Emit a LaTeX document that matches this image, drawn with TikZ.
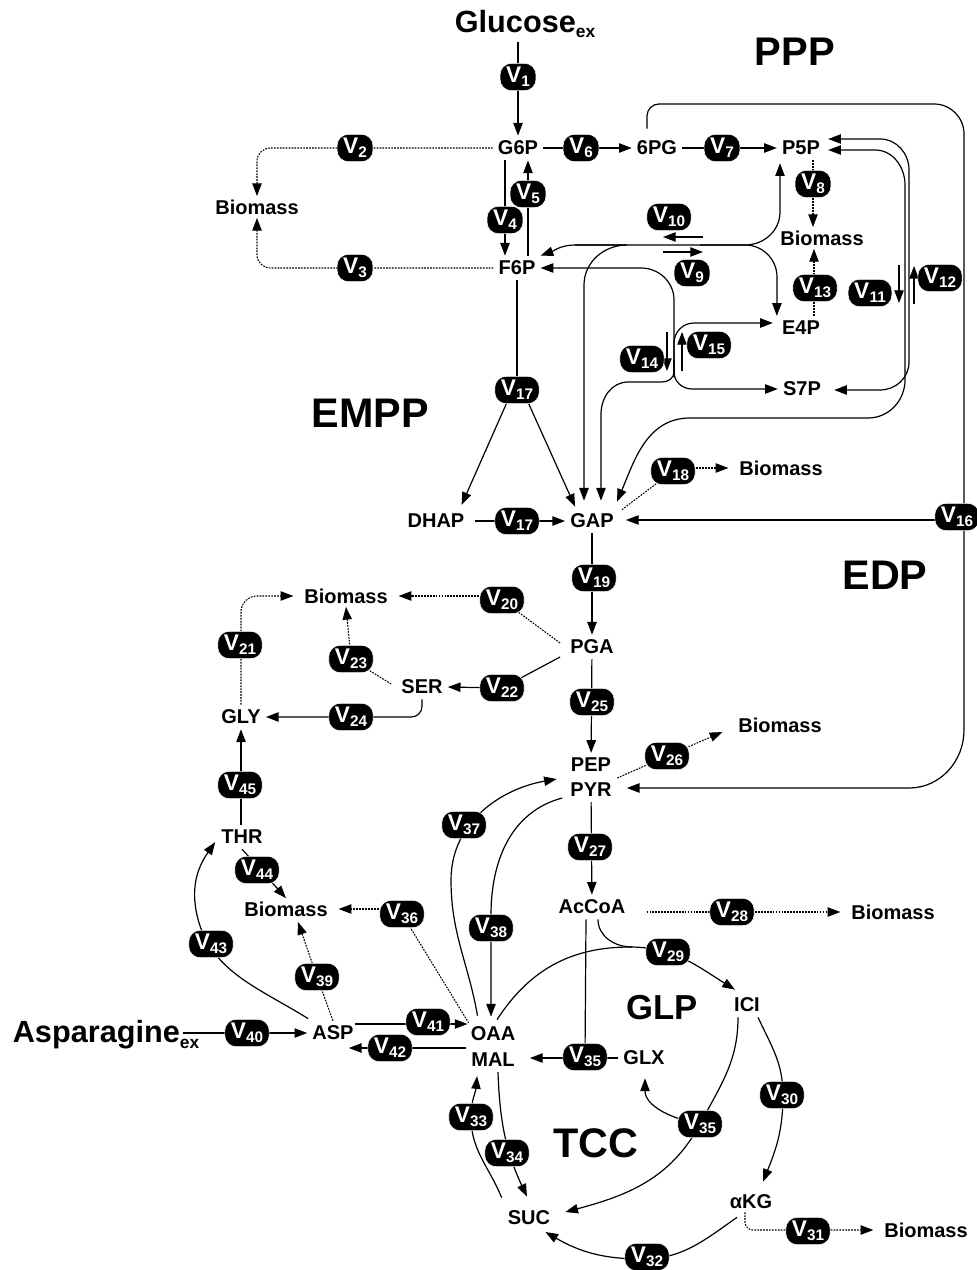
\documentclass[tikz,border=0pt]{standalone}
\usepackage{fontspec}
\setmainfont{Liberation Sans}
\usetikzlibrary{arrows.meta,calc}
\newcommand{\VV}[1]{{\fontsize{17}{17}\selectfont V}\kern0.2pt\raisebox{-3pt}{\fontsize{11.5}{11.5}\selectfont #1}}
\newcommand{\SubEx}{\raisebox{-4pt}{\fontsize{13}{13}\selectfont ex}}
\begin{document}
\begin{tikzpicture}[x=0.75pt,y=-0.75pt,
  >={Triangle[length=9.5pt,width=7pt]},
  met/.style={font=\fontsize{15}{15}\selectfont\bfseries, inner sep=3.75pt},
  bio/.style={met, inner xsep=8pt, inner ysep=2.5pt},
  big/.style={font=\fontsize{31}{31}\selectfont\bfseries, inner sep=0pt},
  ext/.style={font=\fontsize{23}{23}\selectfont\bfseries, inner sep=3pt},
  vb/.style={fill=black, text=white, draw=white, line width=0.4pt, rounded corners=8.5pt, minimum height=20.5pt, inner xsep=4.5pt, inner ysep=0pt, font=\bfseries},
  ln/.style={line width=0.9pt},
  arr/.style={ln,->},
  tb/.style={ln,<->},
  dt/.style={line width=0.8pt, dash pattern=on 1.3pt off 0.9pt},
  dtarr/.style={dt,->}]
\useasboundingbox (0,0) rectangle (976,1270);
% ---------- metabolites ----------
\node[ext] (Glc) at (525,24) {Glucose\SubEx};
\node[met] (G6P) at (518,148) {G6P};
\node[bio] (BmA) at (257,207) {Biomass};
\node[met] (F6P) at (517,268) {F6P};
\node[met] (PG6) at (657,148) {6PG};
\node[met] (P5P) at (801,148) {P5P};
\node[bio] (BmB) at (822,238) {Biomass};
\node[met] (E4P) at (801,328) {E4P};
\node[met] (S7P) at (802,389) {S7P};
\node[met] (DHAP) at (436,521) {DHAP};
\node[met] (GAP) at (592,521) {GAP};
\node[bio] (BmC) at (781,468) {Biomass};
\node[met] (PGA) at (592,647) {PGA};
\node[bio] (BmD) at (346,596) {Biomass};
\node[met] (SER) at (422,687) {SER};
\node[met] (GLY) at (241,717) {GLY};
\node[met] (THR) at (242,837) {THR};
\node[met] (PEP) at (591,765) {PEP};
\node[met] (PYR) at (591,790) {PYR};
\node[bio] (BmE) at (780,725) {Biomass};
\node[met] (AcCoA) at (592,907) {AcCoA};
\node[bio] (BmF) at (893,912) {Biomass};
\node[bio] (BmG) at (286,909) {Biomass};
\node[met] (ASP) at (333,1033) {ASP};
\node[ext] (Asn) at (106,1035) {Asparagine\SubEx};
\node[met] (OAA) at (493,1034) {OAA};
\node[met] (MAL) at (493,1060) {MAL};
\node[met] (GLX) at (644,1058) {GLX};
\node[met] (ICI) at (747,1005) {ICI};
\node[met] (aKG) at (751,1202) {αKG};
\node[bio] (BmH) at (926,1230) {Biomass};
\node[met] (SUC) at (529,1218) {SUC};
% ---------- pathway labels ----------
\node[big, font=\fontsize{30}{30}\selectfont\bfseries] (lPPP) at (795,52) {PPP};
\node[big] (lEMPP) at (370,413) {EMPP};
\node[big] (lEDP) at (885,575) {EDP};
\node[big, font=\fontsize{26}{26}\selectfont\bfseries] (lGLP) at (662,1008) {GLP};
\node[big] (lTCC) at (596,1143) {TCC};
% ---------- flux positions ----------
\coordinate (v1) at (518,77);   \coordinate (v2) at (355,148);
\coordinate (v3) at (355,268);  \coordinate (v4) at (505,220);
\coordinate (v5) at (528,194);  \coordinate (v6) at (581,148);
\coordinate (v7) at (722,148);  \coordinate (v8) at (813,184);
\coordinate (v9) at (692,273);  \coordinate (v10) at (669,217);
\coordinate (v11) at (870,293); \coordinate (v12) at (940,278);
\coordinate (v13) at (815,288); \coordinate (v14) at (642,359);
\coordinate (v15) at (709,345); \coordinate (v16) at (957,517);
\coordinate (v17a) at (517,390); \coordinate (v17b) at (517,521);
\coordinate (v18) at (673,471); \coordinate (v19) at (594,578);
\coordinate (v20) at (502,600); \coordinate (v21) at (240,645);
\coordinate (v22) at (502,688); \coordinate (v23) at (351,659);
\coordinate (v24) at (351,717); \coordinate (v25) at (592,702);
\coordinate (v26) at (667,756); \coordinate (v27) at (590,847);
\coordinate (v28) at (732,912); \coordinate (v29) at (668,952);
\coordinate (v30) at (782,1095); \coordinate (v31) at (808,1231);
\coordinate (v32) at (647,1257); \coordinate (v33) at (471,1117);
\coordinate (v34) at (507,1153); \coordinate (v35a) at (585,1057);
\coordinate (v35b) at (700,1124); \coordinate (v36) at (402,914);
\coordinate (v37) at (464,825); \coordinate (v38) at (491,928);
\coordinate (v39) at (317,977); \coordinate (v40) at (247,1033);
\coordinate (v41) at (428,1022); \coordinate (v42) at (390,1048);
\coordinate (v43) at (211,944); \coordinate (v44) at (257,870);
\coordinate (v45) at (240,785);
% ---------- connectors ----------
\draw[arr] (Glc.south -| G6P) -- (G6P.north);
\draw[dtarr, rounded corners=10pt] (G6P.west) -| (BmA.north);
\draw[dtarr, rounded corners=10pt] (F6P.west) -| (BmA.south);
\draw[arr] ($(G6P.south)+(-13,0)$) -- ($(F6P.north)+(-12,0)$);
\draw[arr] ($(F6P.north)+(11,0)$) -- ($(G6P.south)+(10,0)$);
\draw[arr] (G6P) -- (PG6);
\draw[arr] (PG6) -- (P5P);
\draw[dtarr] ($(P5P.south)+(12,0)$) -- ($(BmB.north)+(-9,0)$);
\draw[dtarr] ($(E4P.north)+(13,0)$) -- ($(BmB.south)+(-8,0)$);
% EDP
\draw[arr] ($(PG6.north)+(-10,-7)$) -- (647,116) to[out=90,in=180] (659,104) -- (934,104)
   to[out=0,in=90] (964,134) -- (964,730) to[out=270,in=0] (909,788) -- ($(PYR.east)+(10,-2)$);
\draw[arr] (964,520) -- ($(GAP.east)+(7,-1)$);
% transketolase / transaldolase network
\draw[arr] (625,245) -- (575,245) to[out=180,in=20] (F6P.north east);
\draw[arr] (575,245) -- (745,245) to[out=0,in=270] (780,212) -- ($(P5P.south)+(-21,3)$);
\draw[arr] (700,245) -- (745,245) to[out=0,in=90] (777,277) -- (E4P.north west);
\draw[arr] (627,245) to[out=180,in=90] (584,285) -- ($(GAP.north)+(-8,-8)$);
\draw[arr] (674,377) -- (674,300) to[out=90,in=0] (641,268) -- (F6P.east);
\draw[arr] (674,360) -- (674,372) to[out=270,in=0] (662,382) -- (628,382) to[out=180,in=90] (601,414) -- ($(GAP.north)+(9,-8)$);
\draw[arr] (674,377) -- (674,343) to[out=90,in=180] (694,323) -- ($(E4P.west)+(-4,-5)$);
\draw[arr] (674,360) -- (674,372) to[out=270,in=180] (692,389) -- (S7P.west);
\draw[arr] (667,332) -- (667,371);
\draw[arr] (682,371) -- (682,332);
\draw[arr] (663,252) -- (703,252);
\draw[arr] (703,237) -- (663,237);
\draw[arr] (899,265) -- (899,303);
\draw[arr] (914,304) -- (914,266);
\draw[tb] ($(P5P.east)+(3,-9)$) -- (880,139) to[out=0,in=90] (909,170) -- (909,362)
   to[out=270,in=0] (880,390) -- ($(S7P.east)+(8,1)$);
\draw[tb] ($(P5P.east)+(3,2)$) -- (875,150) to[out=0,in=90] (905,185) -- (905,380)
   to[out=270,in=0] (868,418) -- (690,418) to[out=180,in=67] ($(GAP.north)+(25,-7)$);
% EMPP
\draw[ln] (F6P.south) -- (v17a);
\draw[arr] (508,400) -- ($(DHAP.north east)+(-8,-4)$);
\draw[arr] (527,400) -- ($(GAP.north west)+(10,-2)$);
\draw[arr, shorten <=4pt] (DHAP) -- (GAP);
\draw[dt] ($(GAP.north east)+(3,1)$) -- (v18);
\draw[dtarr] (v18 |- BmC.west) -- (BmC.west);
\draw[arr] (GAP) -- (PGA);
\draw[dt] ($(PGA.west)+(-5,-4)$) -- (v20);
\draw[dtarr] (v20 |- BmD.east) -- (BmD.east);
\draw[ln] ($(PGA.west)+(-5,10)$) -- (v22);
\draw[arr] (v22) -- (SER.east);
\draw[dt] ($(SER.west)+(-5,-3)$) -- (v23);
\draw[dtarr] (v23) -- (BmD.south);
\draw[arr, rounded corners=8pt] (SER.south) |- (GLY.east);
\draw[dtarr, rounded corners=12pt] (GLY.north) |- (BmD.west);
\draw[arr] (THR.north -| GLY) -- (GLY.south);
\draw[arr] (THR.south) -- (BmG.north);
\draw[dt] (v36) -- ($(OAA.north west)+(3,1)$);
\draw[dtarr] (v36 |- BmG.east) -- (BmG.east);
\draw[dt] (ASP.north) -- (v39);
\draw[dtarr] (v39) -- ($(BmG.south)+(12,2)$);
\draw[arr] ($(Asn.east)+(-20,-2)$) -- (ASP.west);
\draw[arr] ($(ASP.east)+(-4,-9)$) -- ($(OAA.west)+(2,-10)$);
\draw[arr] ($(MAL.west)+(0,-12)$) -- ($(ASP.east)+(-10,15)$);
\draw[arr] ($(ASP.north west)+(1,-2)$) to[out=148,in=280] (196,910) to[out=100,in=235] ($(THR.south west)+(-1,-7)$);
\draw[arr] ($(OAA.north west)+(12,-6)$) to[out=100,in=270] (451,880) to[out=90,in=190] ($(PEP.west)+(-9,14)$);
\draw[arr] ($(PYR.west)+(-3,8)$) to[out=195,in=90] (491,915) -- ($(OAA.north)+(-2,-5)$);
\draw[dt] ($(PEP.east)+(1,13)$) -- (v26);
\draw[dtarr] (v26) -- ($(BmE.west)+(-5,7)$);
\draw[arr] (PGA) -- (PEP);
\draw[arr] (PYR) -- (AcCoA);
\draw[dtarr] ($(AcCoA.east)+(16,5)$) -- (BmF.west);
% TCC / GLP
\draw[arr] ($(OAA.north)+(4,-2)$) to[out=57,in=180] (630,947) to[out=0,in=148] ($(ICI.north west)+(6,-3)$);
\draw[ln] ($(AcCoA.south)+(6,0)$) to[out=270,in=180] (632,947);
\draw[ln] ($(AcCoA.south)+(-6,0)$) -- (v35a);
\draw[arr] (GLX.west) -- ($(MAL.east)+(10,-2)$);
\draw[arr] ($(ICI.south)+(-9,0)$) to[out=270,in=62] (700,1124) to[out=242,in=15] ($(SUC.east)+(10,-6)$);
\draw[arr] (v35b) to[out=170,in=270] ($(GLX.south)+(1,8)$);
\draw[arr] ($(ICI.south)+(11,0)$) to[out=-65,in=90] (783,1095) to[out=270,in=68] ($(aKG.north)+(12,-8)$);
\draw[dtarr, rounded corners=6pt] ($(aKG.south)+(-6,-2)$) |- (BmH.west);
\draw[arr] ($(aKG.south)+(-14,3)$) to[out=215,in=0] (642,1259) to[out=180,in=-30] ($(SUC.east)+(-10,14)$);
\draw[arr] ($(SUC.north west)+(-1,-8)$) to[out=112,in=270] (471,1117) to[out=90,in=265] ($(MAL.south west)+(11,4)$);
\draw[arr] ($(MAL.south)+(5,0)$) to[out=272,in=115] ($(SUC.north)+(-2,-9)$);
% ---------- flux labels ----------
\foreach \c/\n in {v1/1,v2/2,v3/3,v4/4,v5/5,v6/6,v7/7,v8/8,v9/9,v10/10,v11/11,v12/12,v13/13,v14/14,v15/15,v16/16,v17a/17,v17b/17,v18/18,v19/19,v20/20,v21/21,v22/22,v23/23,v24/24,v25/25,v26/26,v27/27,v28/28,v29/29,v30/30,v31/31,v32/32,v33/33,v34/34,v35a/35,v35b/35,v36/36,v37/37,v38/38,v39/39,v40/40,v41/41,v42/42,v43/43,v44/44,v45/45}
  \node[vb] (L\c) at (\c) {\VV{\n}};
\end{tikzpicture}
\end{document}
